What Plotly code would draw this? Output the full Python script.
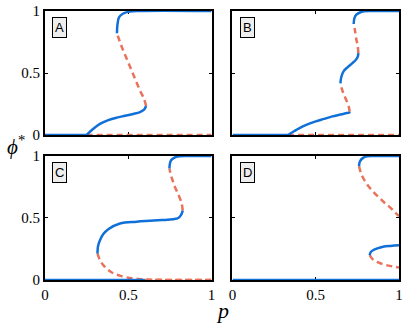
import plotly.graph_objects as go
from plotly.subplots import make_subplots

BLUE = '#1170d8'
RED = '#e9725a'

# panel A
a_low_p = [0, 0.25]
a_low_phi = [0, 0]
a_mid_p = [0.25, 0.29, 0.33, 0.38, 0.43, 0.48, 0.53, 0.57, 0.595, 0.607]
a_mid_phi = [0, 0.05, 0.09, 0.12, 0.14, 0.155, 0.17, 0.185, 0.205, 0.234]
a_unst_p = [0.607, 0.595, 0.57, 0.545, 0.52, 0.495, 0.47, 0.45, 0.432]
a_unst_phi = [0.234, 0.29, 0.36, 0.44, 0.52, 0.60, 0.68, 0.75, 0.82]
a_top_p = [0.432, 0.435, 0.445, 0.47, 0.51, 0.56, 1.0]
a_top_phi = [0.82, 0.89, 0.95, 0.98, 0.995, 1.0, 1.0]
a_zero_p = [0.25, 1.0]
a_zero_phi = [0, 0]

# panel B
b_low_p = [0, 0.334]
b_low_phi = [0, 0]
b_mid_p = [0.334, 0.37, 0.40, 0.45, 0.50, 0.55, 0.60, 0.65, 0.68, 0.70, 0.704]
b_mid_phi = [0, 0.03, 0.054, 0.085, 0.11, 0.13, 0.15, 0.165, 0.175, 0.18, 0.188]
b_unst1_p = [0.704, 0.698, 0.684, 0.668, 0.655, 0.648]
b_unst1_phi = [0.188, 0.23, 0.28, 0.33, 0.38, 0.417]
b_mid2_p = [0.648, 0.654, 0.668, 0.694, 0.72, 0.74, 0.752, 0.756]
b_mid2_phi = [0.417, 0.47, 0.515, 0.55, 0.58, 0.605, 0.63, 0.66]
b_unst2_p = [0.756, 0.752, 0.744, 0.736, 0.728]
b_unst2_phi = [0.66, 0.72, 0.77, 0.84, 0.895]
b_top_p = [0.728, 0.732, 0.744, 0.765, 0.79, 0.83, 1.0]
b_top_phi = [0.895, 0.94, 0.97, 0.988, 0.997, 1.0, 1.0]
b_zero_p = [0.334, 1.0]
b_zero_phi = [0, 0]

# panel C
c_low_p = [0, 0.6]
c_low_phi = [0, 0]
c_unst1_p = [0.315, 0.33, 0.35, 0.38, 0.41, 0.45, 0.49, 0.55, 0.6, 1.0]
c_unst1_phi = [0.214, 0.16, 0.12, 0.08, 0.054, 0.035, 0.021, 0.01, 0.004, 0.0]
c_mid_p = [0.315, 0.318, 0.33, 0.35, 0.38, 0.45, 0.55, 0.63, 0.70, 0.77, 0.80, 0.817, 0.827]
c_mid_phi = [0.214, 0.27, 0.32, 0.37, 0.41, 0.456, 0.47, 0.477, 0.483, 0.49, 0.50, 0.525, 0.56]
c_unst2_p = [0.827, 0.82, 0.797, 0.78, 0.767, 0.755, 0.747]
c_unst2_phi = [0.56, 0.62, 0.70, 0.75, 0.80, 0.85, 0.90]
c_top_p = [0.747, 0.75, 0.757, 0.775, 0.807, 0.85, 1.0]
c_top_phi = [0.90, 0.94, 0.965, 0.985, 0.997, 1.0, 1.0]
c_zero_p = [0.6, 1.0]
c_zero_phi = [0, 0]

# panel D
d_low_p = [0, 1.0]
d_low_phi = [0, 0]
d_top_p = [0.76, 0.765, 0.784, 0.81, 0.844, 1.0]
d_top_phi = [0.917, 0.955, 0.985, 0.997, 1.0, 1.0]
d_unst1_p = [0.76, 0.775, 0.804, 0.84, 0.884, 0.92, 0.954, 0.98, 1.0]
d_unst1_phi = [0.917, 0.85, 0.78, 0.72, 0.66, 0.615, 0.576, 0.54, 0.515]
d_mid_p = [0.824, 0.83, 0.844, 0.87, 0.904, 0.95, 1.0]
d_mid_phi = [0.20, 0.225, 0.24, 0.255, 0.268, 0.275, 0.28]
d_unst2_p = [0.824, 0.84, 0.864, 0.894, 0.924, 0.96, 1.0]
d_unst2_phi = [0.20, 0.17, 0.147, 0.132, 0.12, 0.11, 0.10]

panels = {
    'A': ([(a_low_p, a_low_phi), (a_mid_p, a_mid_phi), (a_top_p, a_top_phi)],
          [(a_zero_p, a_zero_phi), (a_unst_p, a_unst_phi)]),
    'B': ([(b_low_p, b_low_phi), (b_mid_p, b_mid_phi), (b_mid2_p, b_mid2_phi), (b_top_p, b_top_phi)],
          [(b_zero_p, b_zero_phi), (b_unst1_p, b_unst1_phi), (b_unst2_p, b_unst2_phi)]),
    'C': ([(c_low_p, c_low_phi), (c_mid_p, c_mid_phi), (c_top_p, c_top_phi)],
          [(c_zero_p, c_zero_phi), (c_unst1_p, c_unst1_phi), (c_unst2_p, c_unst2_phi)]),
    'D': ([(d_low_p, d_low_phi), (d_top_p, d_top_phi), (d_mid_p, d_mid_phi)],
          [(d_unst1_p, d_unst1_phi), (d_unst2_p, d_unst2_phi)]),
}

fig = make_subplots(rows=2, cols=2, horizontal_spacing=0.059, vertical_spacing=0.078)

pos = {'A': (1, 1), 'B': (1, 2), 'C': (2, 1), 'D': (2, 2)}
for name, (stable, unstable) in panels.items():
    r, c = pos[name]
    for px, py in unstable:
        fig.add_trace(go.Scatter(x=px, y=py, mode='lines', line_shape='spline',
                                 line=dict(color=RED, width=2.5, dash='6px,4px'),
                                 cliponaxis=False, showlegend=False), row=r, col=c)
    for px, py in stable:
        fig.add_trace(go.Scatter(x=px, y=py, mode='lines', line_shape='spline',
                                 line=dict(color=BLUE, width=2.5),
                                 cliponaxis=False, showlegend=False), row=r, col=c)

axis_style = dict(range=[0, 1], showline=True, mirror='ticks', linecolor='black', linewidth=2,
                  showgrid=False, zeroline=False, ticks='inside', ticklen=3, tickcolor='black',
                  tickvals=[0, 0.5, 1], ticktext=['0', '0.5', '1'], layer='below traces',
                  tickfont=dict(family='Liberation Serif', size=15, color='black'))
fig.update_xaxes(**axis_style)
fig.update_yaxes(**axis_style)
fig.update_xaxes(showticklabels=False, row=1)
fig.update_yaxes(showticklabels=False, col=2)

# panel letters in boxes
for i, name in enumerate(['A', 'B', 'C', 'D']):
    ax = '' if i == 0 else str(i + 1)
    fig.add_annotation(x=0.045, y=0.95, xref='x%s domain' % ax, yref='y%s domain' % ax,
                       xanchor='left', yanchor='top', text=name, showarrow=False,
                       font=dict(family='Liberation Sans', size=13, color='black'),
                       bgcolor='#eeeeee', bordercolor='black', borderwidth=1, borderpad=2)

fig.add_annotation(x=0.5, y=-0.115, xref='paper', yref='paper', yanchor='middle',
                   text='<i>p</i>', showarrow=False,
                   font=dict(family='Liberation Serif', size=22, color='black'))
fig.add_annotation(x=-0.05, y=0.5, xref='paper', yref='paper', xanchor='right',
                   text='<i>ϕ</i><sup>*</sup>', showarrow=False,
                   font=dict(family='Liberation Serif', size=21, color='black'))

fig.update_layout(width=407, height=329,
                  margin=dict(l=45, r=8, t=11, b=49, autoexpand=False),
                  plot_bgcolor='white', paper_bgcolor='white')

fig.write_html("out.html", config={'displayModeBar': False},
               post_script="document.body.style.margin='0';")
